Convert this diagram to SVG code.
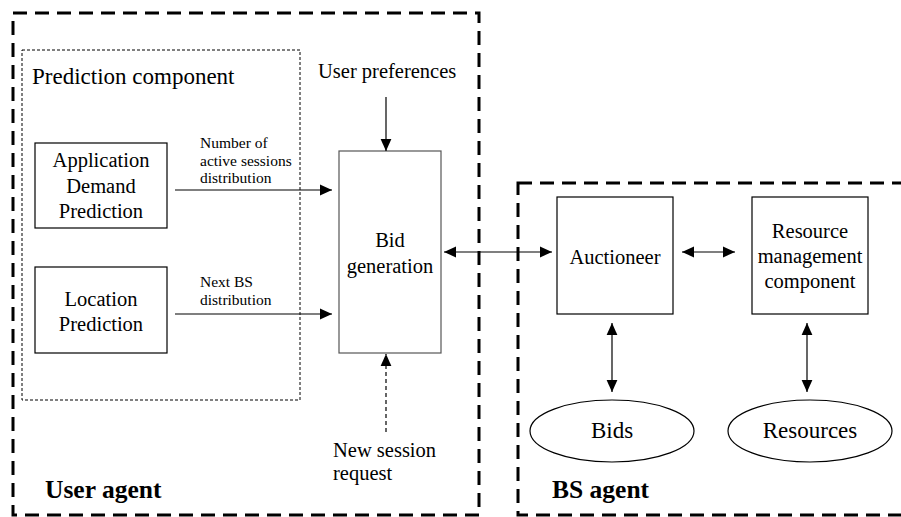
<svg xmlns="http://www.w3.org/2000/svg" width="901" height="517" viewBox="0 0 901 517" font-family="'Liberation Serif', 'Times New Roman', 'DejaVu Serif', serif">
<style>
text{font-family:"Liberation Serif","Times New Roman","DejaVu Serif",serif;fill:#000}
.t{font-size:20.5px}
.s{font-size:15.5px}
.b{font-size:25.5px;font-weight:bold}
.box{fill:#fff;stroke:#000;stroke-width:1.2}
.agent{fill:none;stroke:#000;stroke-width:3;stroke-dasharray:14 8}
.pc{fill:none;stroke:#000;stroke-width:1;stroke-dasharray:3 2}
.ln{fill:none;stroke:#000;stroke-width:1.2}
</style>
<defs>
<marker id="ah" markerUnits="userSpaceOnUse" markerWidth="12" markerHeight="12" refX="10" refY="5" orient="auto-start-reverse" viewBox="0 0 10 10">
<path d="M0,0.5 L10,5 L0,9.5 Z" fill="#000"/>
</marker>
</defs>
<rect width="901" height="517" fill="#fff"/>
<g id="user-agent">
<rect class="agent" x="13" y="13" width="466" height="502"/>
<text class="b" x="45" y="498">User agent</text>
</g>
<g id="bs-agent">
<rect class="agent" x="518" y="183" width="400" height="332"/>
<text class="b" x="552" y="498">BS agent</text>
</g>
<g id="prediction-component">
<rect class="pc" x="22" y="50" width="278" height="350"/>
<text x="32" y="84" style="font-size:23px">Prediction component</text>
</g>
<g id="app-demand">
<rect class="box" x="35" y="143" width="132" height="85"/>
<text class="t" text-anchor="middle" x="101" y="167">Application</text>
<text class="t" text-anchor="middle" x="101" y="193">Demand</text>
<text class="t" text-anchor="middle" x="101" y="218">Prediction</text>
</g>
<g id="location">
<rect class="box" x="35" y="267" width="132" height="86"/>
<text class="t" text-anchor="middle" x="101" y="306">Location</text>
<text class="t" text-anchor="middle" x="101" y="331">Prediction</text>
</g>
<g id="bid-generation">
<rect x="339" y="151" width="102" height="202" fill="#fff" stroke="#555" stroke-width="1.2"/>
<text class="t" text-anchor="middle" x="390" y="247">Bid</text>
<text class="t" text-anchor="middle" x="390" y="273">generation</text>
</g>
<g id="user-preferences">
<text class="t" x="318" y="78">User preferences</text>
</g>
<g id="new-session">
<text class="t" x="333" y="457">New session</text>
<text class="t" x="333" y="480">request</text>
</g>
<g id="auctioneer">
<rect class="box" x="557" y="197" width="116" height="117"/>
<text class="t" text-anchor="middle" x="615" y="264">Auctioneer</text>
</g>
<g id="resource-mgmt">
<rect class="box" x="752" y="197" width="116" height="117"/>
<text class="t" text-anchor="middle" x="810" y="238">Resource</text>
<text class="t" text-anchor="middle" x="810" y="263">management</text>
<text class="t" text-anchor="middle" x="810" y="288">component</text>
</g>
<g id="bids">
<ellipse cx="612" cy="431" rx="82" ry="31" fill="#fff" stroke="#000" stroke-width="1.2"/>
<text text-anchor="middle" x="612" y="438" style="font-size:23px">Bids</text>
</g>
<g id="resources">
<ellipse cx="810" cy="431" rx="82" ry="31" fill="#fff" stroke="#000" stroke-width="1.2"/>
<text text-anchor="middle" x="810" y="438" style="font-size:23px">Resources</text>
</g>
<g id="connectors">
<line class="ln" x1="175" y1="190" x2="332" y2="190" marker-end="url(#ah)"/>
<text class="s" x="200" y="148">Number of</text>
<text class="s" x="200" y="166">active sessions</text>
<text class="s" x="200" y="183">distribution</text>
<line class="ln" x1="175" y1="314" x2="332" y2="314" marker-end="url(#ah)"/>
<text class="s" x="200" y="287">Next BS</text>
<text class="s" x="200" y="305">distribution</text>
<line class="ln" x1="386" y1="97" x2="386" y2="151" marker-end="url(#ah)"/>
<line class="ln" x1="386" y1="432" x2="386" y2="354" stroke-dasharray="4 3" marker-end="url(#ah)"/>
<line class="ln" x1="444" y1="252" x2="552" y2="252" marker-start="url(#ah)" marker-end="url(#ah)"/>
<line class="ln" x1="682" y1="252" x2="735" y2="252" marker-start="url(#ah)" marker-end="url(#ah)"/>
<line class="ln" x1="612" y1="323" x2="612" y2="392" marker-start="url(#ah)" marker-end="url(#ah)"/>
<line class="ln" x1="807" y1="323" x2="807" y2="392" marker-start="url(#ah)" marker-end="url(#ah)"/>
</g>
</svg>
